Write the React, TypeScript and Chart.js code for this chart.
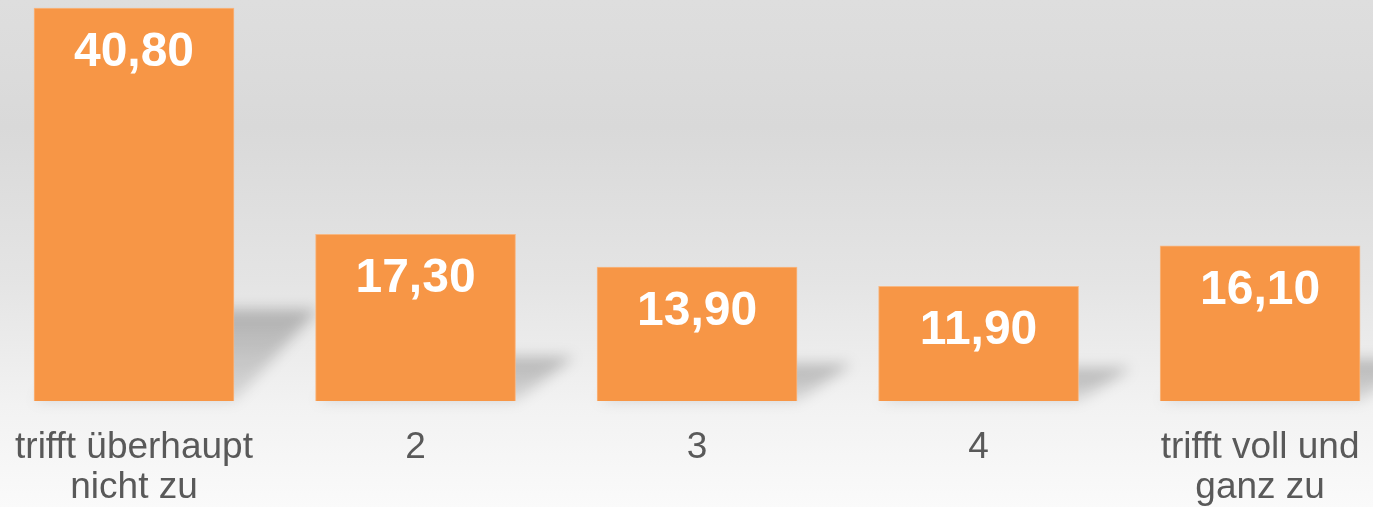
import React, { useEffect, useRef } from "react";
import { Chart, registerables } from "chart.js";

Chart.register(...registerables);

const categories: (string | string[])[] = [
  ["trifft überhaupt", "nicht zu"],
  "2",
  "3",
  "4",
  ["trifft voll und", "ganz zu"],
];
const values: number[] = [40.8, 17.3, 13.9, 11.9, 16.1];

const BAR_COLOR = "#F79646";
const FONT = "'Liberation Sans', Arial, sans-serif";

const fmt = (v: number) => v.toFixed(2).replace(".", ",");

const shadowPlugin = {
  id: "barShadows",
  beforeDatasetsDraw(chart: any) {
    const ctx = chart.ctx;
    const meta = chart.getDatasetMeta(0);
    meta.data.forEach((bar: any) => {
      const base = bar.base;
      const h = base - bar.y;
      const l = bar.x - bar.width / 2;
      const r = bar.x + bar.width / 2;
      const dy = 0.21 * h + 9;
      const dx = 0.115 * h + 39;
      ctx.save();
      ctx.filter = "blur(7px)";
      const g = ctx.createLinearGradient(0, base - dy, 0, base);
      g.addColorStop(0, "rgba(0,0,0,0.24)");
      g.addColorStop(1, "rgba(0,0,0,0.10)");
      ctx.fillStyle = g;
      ctx.beginPath();
      ctx.moveTo(l, base);
      ctx.lineTo(r, base);
      ctx.lineTo(r + dx, base - dy);
      ctx.lineTo(l + dx, base - dy);
      ctx.closePath();
      ctx.fill();
      ctx.restore();
    });
  },
};

const labelPlugin = {
  id: "barLabels",
  afterDatasetsDraw(chart: any) {
    const ctx = chart.ctx;
    const meta = chart.getDatasetMeta(0);
    ctx.save();
    ctx.font = `bold 48px ${FONT}`;
    ctx.fillStyle = "#ffffff";
    ctx.textAlign = "center";
    ctx.textBaseline = "alphabetic";
    meta.data.forEach((bar: any, i: number) => {
      ctx.fillText(fmt(values[i]), bar.x, bar.y + 58);
    });
    ctx.restore();
  },
};

export default function App() {
  const ref = useRef<HTMLCanvasElement | null>(null);

  useEffect(() => {
    if (!ref.current) return;
    const chart = new Chart(ref.current, {
      type: "bar",
      data: {
        datasets: [
          {
            data: values.map((v, i) => ({ x: i, y: v })),
            backgroundColor: BAR_COLOR,
            borderColor: "rgba(250,178,120,0.9)",
            borderWidth: 1,
            barThickness: 200,
          },
        ],
      },
      options: {
        animation: false,
        responsive: true,
        maintainAspectRatio: false,
        layout: { padding: 0 },
        plugins: {
          legend: { display: false },
          tooltip: { enabled: false },
        },
        scales: {
          x: {
            type: "linear",
            min: -0.476,
            max: 4.401,
            offset: false,
            grid: { display: false, drawTicks: true, tickLength: 8 },
            border: { display: false },
            afterBuildTicks: (axis: any) => {
              axis.ticks = categories.map((_, i) => ({ value: i }));
            },
            afterFit: (axis: any) => {
              axis.paddingLeft = 0;
              axis.paddingRight = 0;
              axis.height = 106;
            },
            ticks: {
              autoSkip: false,
              maxRotation: 0,
              padding: 18,
              color: "#595959",
              font: { family: FONT, size: 37, lineHeight: 1.1 },
              callback: (v: any) => categories[v as number],
            },
          },
          y: {
            display: false,
            min: 0,
            max: 41.63,
          },
        },
      },
      plugins: [shadowPlugin, labelPlugin],
    } as any);
    return () => chart.destroy();
  }, []);

  return (
    <div
      style={{
        position: "absolute",
        left: 0,
        top: 0,
        width: 1373,
        height: 507,
        overflow: "hidden",
        background:
          "linear-gradient(to bottom, #dedede 0%, #d9d9d9 25%, #e4e4e4 55%, #f2f2f2 80%, #fafafa 100%)",
      }}
    >
      <canvas ref={ref} />
    </div>
  );
}
